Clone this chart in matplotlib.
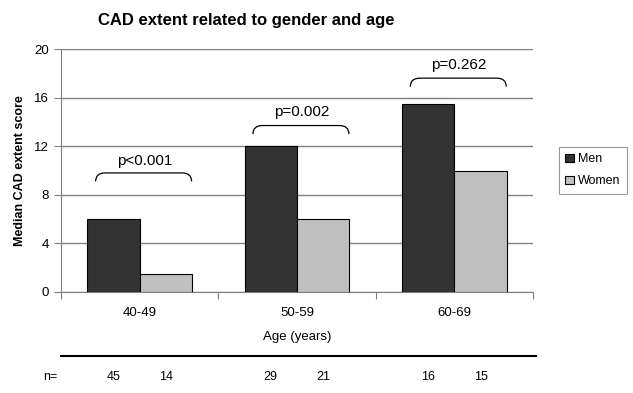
import matplotlib
matplotlib.use('Agg')
import matplotlib.pyplot as plt
import matplotlib.transforms as mtransforms
from matplotlib.path import Path
from matplotlib.patches import PathPatch
import numpy as np

plt.rcParams['font.family'] = ['Liberation Sans', 'DejaVu Sans']

ages = ['40-49', '50-59', '60-69']
men = [6, 12, 15.5]
women = [1.5, 6, 10]
n_men = [45, 29, 16]
n_women = [14, 21, 15]
pvals = ['p<0.001', 'p=0.002', 'p=0.262']
# bracket heights (top, text) per group
br_top = [9.8, 13.7, 17.6]
txt_y = [10.8, 14.8, 18.7]

fig = plt.figure(figsize=(6.33, 3.93), dpi=100)
ax = fig.add_axes([61/633, 1-292/393, 472/633, 243/393])

x = np.arange(len(ages))
w = 1/3
ax.bar(x - w/2, men, w, color='#333333', edgecolor='black', linewidth=0.8, label='Men', zorder=3)
ax.bar(x + w/2, women, w, color='#c0c0c0', edgecolor='black', linewidth=0.8, label='Women', zorder=3)

ax.set_xlim(-0.5, 2.5)
ax.set_ylim(0, 20)
ax.set_yticks([0, 4, 8, 12, 16, 20])
ax.yaxis.grid(True, color='#808080', linewidth=1)
ax.set_axisbelow(True)
for s in ['top', 'right']:
    ax.spines[s].set_visible(False)
ax.spines['left'].set_color('#808080')
ax.spines['bottom'].set_color('#808080')
ax.tick_params(axis='y', length=5, color='#808080', labelsize=9.5)

ax.set_xticks([-0.5, 0.5, 1.5, 2.5])
ax.set_xticklabels([])
ax.tick_params(axis='x', length=5, color='#808080')
for i, a in enumerate(ages):
    ax.text(i, -1.75, a, ha='center', va='center', fontsize=9.5)
ax.text(1, -3.7, 'Age (years)', ha='center', va='center', fontsize=9.5)
ax.set_ylabel('Median CAD extent score', fontsize=9, fontweight='bold', labelpad=6)

# p-value brackets
for i, p in enumerate(pvals):
    x0, x1 = i - 0.28, i + 0.33
    top, low = br_top[i], br_top[i] - 0.7
    dx = 0.06
    verts = [(x0, low), (x0, top), (x0 + dx, top), (x1 - dx, top),
             (x1, top), (x1, low)]
    codes = [Path.MOVETO, Path.CURVE3, Path.CURVE3, Path.LINETO,
             Path.CURVE3, Path.CURVE3]
    ax.add_patch(PathPatch(Path(verts, codes), fill=False, lw=0.9, ec='black'))
    ax.text(i + 0.03, txt_y[i], p, ha='center', va='center', fontsize=11)

fig.text(246/633, 1-21/393, 'CAD extent related to gender and age',
         ha='center', va='center', fontsize=12, fontweight='bold')

leg = ax.legend(loc='upper left', bbox_to_anchor=(559/633, 1-147/393),
                bbox_transform=fig.transFigure, fontsize=9, frameon=True,
                fancybox=False, edgecolor='#808080', handlelength=0.7,
                handleheight=0.7, handletextpad=0.3, borderpad=0.5,
                labelspacing=0.8, borderaxespad=0)
leg.get_frame().set_linewidth(0.8)

# sample size row
fig.add_artist(plt.Line2D([61/633, 536/633], [1-356/393, 1-356/393],
                          color='black', lw=1.5))
trans = mtransforms.blended_transform_factory(ax.transData, fig.transFigure)
fig.text(43/633, 1-377/393, 'n=', ha='left', va='center', fontsize=9)
for i in range(len(ages)):
    fig.text(i - w/2, 1-377/393, str(n_men[i]), ha='center', va='center',
             fontsize=9, transform=trans)
    fig.text(i + w/2, 1-377/393, str(n_women[i]), ha='center', va='center',
             fontsize=9, transform=trans)

fig.savefig('out.png', dpi=100)
